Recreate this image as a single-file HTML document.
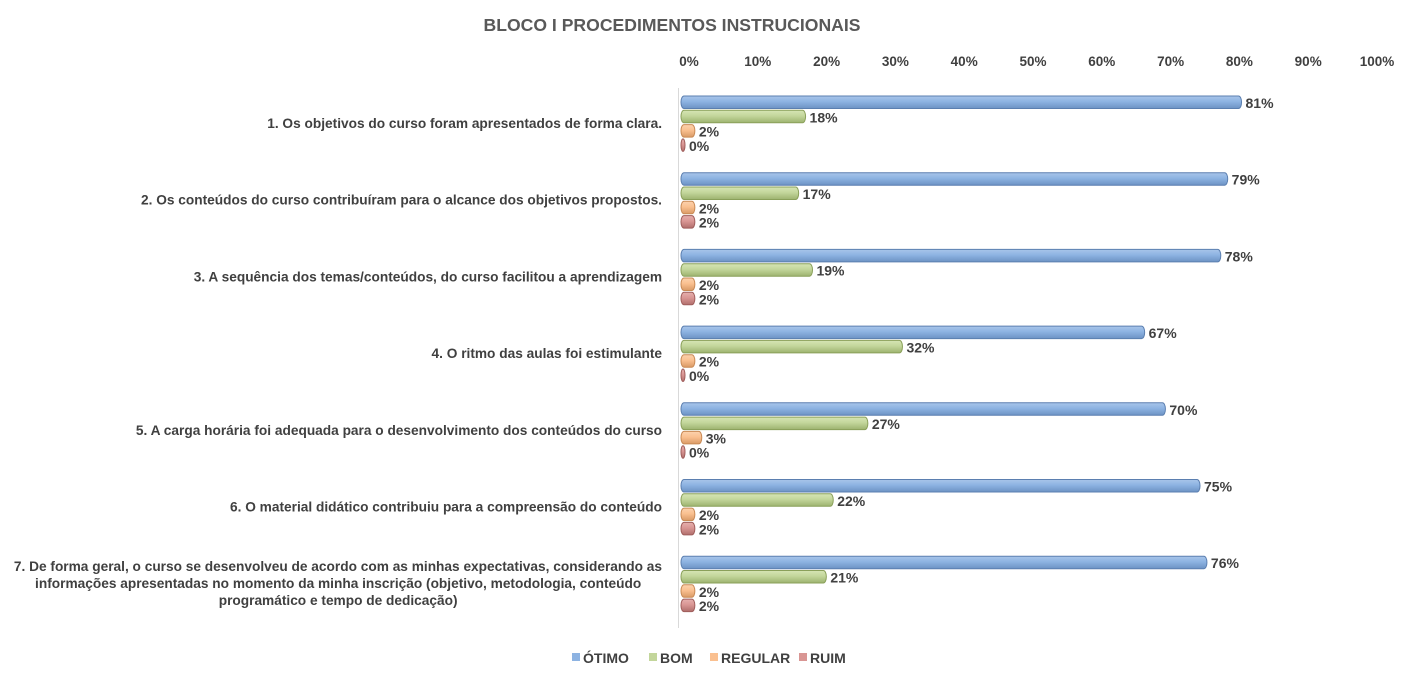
<!DOCTYPE html>
<html><head><meta charset="utf-8"><style>
body{margin:0;background:#fff}
svg text{font-family:"Liberation Sans",sans-serif;font-weight:bold;fill:#404040}
</style></head><body>
<svg width="1415" height="680" viewBox="0 0 1415 680" xmlns="http://www.w3.org/2000/svg">
<defs>
<linearGradient id="gb" x1="0" y1="0" x2="0" y2="1"><stop offset="0" stop-color="#a9c5ea"/><stop offset="0.45" stop-color="#8db3e2"/><stop offset="1" stop-color="#6d93c4"/></linearGradient>
<linearGradient id="gg" x1="0" y1="0" x2="0" y2="1"><stop offset="0" stop-color="#d6e5b5"/><stop offset="0.45" stop-color="#c3d69b"/><stop offset="1" stop-color="#9db36f"/></linearGradient>
<linearGradient id="go" x1="0" y1="0" x2="0" y2="1"><stop offset="0" stop-color="#fcd2ae"/><stop offset="0.45" stop-color="#fac090"/><stop offset="1" stop-color="#d99a66"/></linearGradient>
<linearGradient id="gr" x1="0" y1="0" x2="0" y2="1"><stop offset="0" stop-color="#e6b0ae"/><stop offset="0.45" stop-color="#d99694"/><stop offset="1" stop-color="#b06e6c"/></linearGradient>
</defs>
<text x="672" y="31" font-size="17.6" text-anchor="middle" style="fill:#595959">BLOCO I PROCEDIMENTOS INSTRUCIONAIS</text>
<g font-size="13.5" text-anchor="middle" id="ax"></g>
<line x1="678.5" y1="88" x2="678.5" y2="628" stroke="#d9d9d9" stroke-width="1"/>
<g id="bars"></g>
<g id="labels" font-size="13.7"></g>
<g font-size="14">
<rect x="572" y="653" width="8" height="8" fill="#8db3e2"/><text x="583" y="663">ÓTIMO</text>
<rect x="649" y="653" width="8" height="8" fill="#c3d69b"/><text x="660" y="663">BOM</text>
<rect x="710" y="653" width="8" height="8" fill="#fac090"/><text x="721" y="663">REGULAR</text>
<rect x="799" y="653" width="8" height="8" fill="#d99694"/><text x="810" y="663">RUIM</text>
</g>
</svg>
<script>
var NS="http://www.w3.org/2000/svg";
function el(t,a,p,txt){var e=document.createElementNS(NS,t);for(var k in a)e.setAttribute(k,a[k]);if(txt!=null)e.textContent=txt;document.getElementById(p).appendChild(e);return e;}
var x0=681,s=6.92;
for(var i=0;i<=10;i++)el("text",{x:689+i*68.8,y:66},"ax",(i*10)+"%");
var data=[[81,18,2,0],[79,17,2,2],[78,19,2,2],[67,32,2,0],[70,27,3,0],[75,22,2,2],[76,21,2,2]];
var fills=["url(#gb)","url(#gg)","url(#go)","url(#gr)"],strokes=["#5b7fb0","#8aa05a","#c98a55","#a05e5c"];
var labs=[["1. Os objetivos do curso foram apresentados de forma clara."],["2. Os conteúdos do curso contribuíram para o alcance dos objetivos propostos."],["3. A sequência dos temas/conteúdos, do curso facilitou a aprendizagem"],["4. O ritmo das aulas foi estimulante"],["5. A carga horária foi adequada para o desenvolvimento dos conteúdos do curso"],["6. O material didático contribuiu para a compreensão do conteúdo"],["7. De forma geral, o curso se desenvolveu de acordo com as minhas expectativas, considerando as","informações apresentadas no momento da minha inscrição (objetivo, metodologia, conteúdo","programático e tempo de dedicação)"]];
for(var g=0;g<7;g++){var gy=96+g*76.7;
 for(var k=0;k<4;k++){var y=gy+k*14.3,v=data[g][k],w=Math.max(v*s,4);
  el("rect",{x:x0,y:y,width:w,height:12.5,rx:3,ry:6,fill:fills[k],stroke:strokes[k],"stroke-width":1},"bars");
  el("text",{x:x0+w+4,y:y+12,"font-size":14},"bars",v+"%");}
 var L=labs[g],cy=gy+27;
 if(L.length==1) el("text",{x:662,y:cy+5,"text-anchor":"end"},"labels",L[0]);
 else {
  var first=el("text",{x:662,y:cy+5-17,"text-anchor":"end"},"labels",L[0]);
  var bb=first.getBBox(),c=bb.x+bb.width/2;
  for(var j=1;j<L.length;j++)el("text",{x:c,y:cy+5+(j-1)*17,"text-anchor":"middle"},"labels",L[j]);
 }
}
</script>
</body></html>
